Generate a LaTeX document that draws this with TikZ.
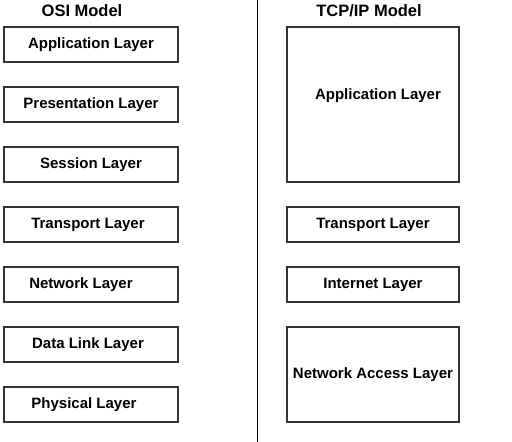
\documentclass[tikz,border=0pt]{standalone}
\usepackage{fontspec}
\setmainfont{Liberation Sans}
\usetikzlibrary{positioning}
\tikzset{
    layer/.style = {rectangle, draw=black!80, line width=1.2pt, inner sep=0pt, outer sep=0pt, align=center, font=\fontsize{15}{18}\selectfont\bfseries},
    osi_layer/.style = {layer, minimum width=174pt, minimum height=35pt},
    tcp_layer/.style = {layer, minimum width=172pt, minimum height=35pt},
    model_title/.style = {anchor=base, inner sep=0pt, font=\fontsize{16.5}{20}\selectfont\bfseries}
}

\begin{document}
\begin{tikzpicture}
            [x=1pt, y=-1pt, node distance=25pt]

            \useasboundingbox (0,0) rectangle (512,442);

            % titles and the split between the two models
            \node [model_title] (osi_title) at (82,16.7) {OSI Model};
            \node [model_title] (tcp_title) at (369,16.7) {TCP/IP Model};
            \coordinate (split_top) at (257,0);
            \coordinate (split_bottom) at (257,442);
            \draw [line width=1pt] (split_top) -- (split_bottom);

            % OSI stack
            \node [osi_layer] (osi_app) at (91,44.5) {Application Layer};
            \node [osi_layer, below=of osi_app] (osi_pres) {Presentation Layer};
            \node [osi_layer, below=of osi_pres] (osi_sess) {Session Layer};
            \node [osi_layer, below=of osi_sess] (osi_trans) {Transport Layer\hspace*{6pt}};
            \node [osi_layer, below=of osi_trans] (osi_net) {Network Layer\hspace*{20pt}};
            \node [osi_layer, below=of osi_net] (osi_link) {Data Link Layer\hspace*{6pt}};
            \node [osi_layer, below=of osi_link] (osi_phys) {Physical Layer\hspace*{14pt}};

            % TCP/IP stack
            \node [tcp_layer, minimum height=155pt] (tcp_app) at (373,104.5) {\hspace*{10pt}\raisebox{5pt}[0pt][0pt]{Application Layer}};
            \node [tcp_layer, below=of tcp_app] (tcp_trans) {Transport Layer};
            \node [tcp_layer, below=of tcp_trans] (tcp_inet) {Internet Layer};
            \node [tcp_layer, below=of tcp_inet, minimum height=95pt] (tcp_access) {Network Access Layer};
\end{tikzpicture}
\end{document}
